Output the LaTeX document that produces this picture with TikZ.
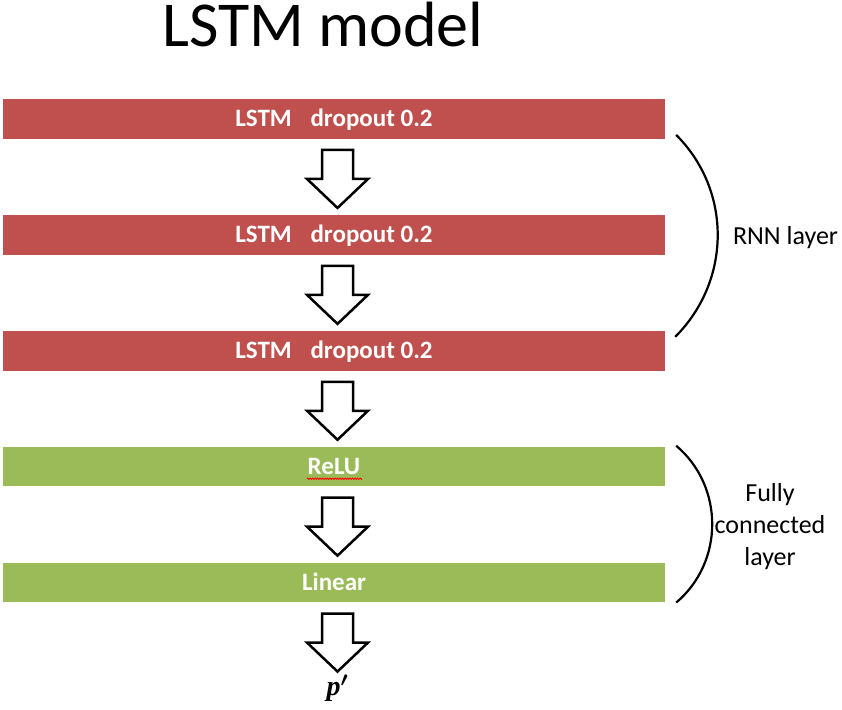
\documentclass[tikz,border=0pt]{standalone}
\usepackage{amsmath}
\usepackage{fontspec}
\setmainfont{Carlito}
\newfontfamily\serifsalida{Liberation Serif}
\usepackage{tikz}
\usetikzlibrary{calc}
\usetikzlibrary{positioning}
\usetikzlibrary{decorations.pathmorphing}
\definecolor{barrojo}{HTML}{C0504D}
\definecolor{barverde}{HTML}{9BBB59}

% Flecha de bloque entre dos barras (de #1 a #2)
\newcommand{\flechabloque}[2]{%
  \draw[flecha] let \p1 = ($(#1.south)+(3.5,11)$), \p2 = ($(#2.north)+(3.5,-7)$) in
    (\x1-15.5pt,\y1) -- (\x1+15.5pt,\y1) -- (\x1+15.5pt,\y2+29pt) -- (\x1+30.5pt,\y2+29pt)
    -- (\x1,\y2) -- (\x1-30.5pt,\y2+29pt) -- (\x1-15.5pt,\y2+29pt) -- cycle;}

\begin{document}
\begin{tikzpicture}[
    x=1pt, y=-1pt, % Un pt por pixel, eje y hacia abajo
    node distance=76pt, % Separación entre barras
    barra/.style={minimum width=662pt, minimum height=39.5pt, inner sep=0pt, text=white,
      font=\fontsize{25}{29}\selectfont\bfseries, text height=15.5pt, text depth=0pt}, % Estilo de las capas
    lstm/.style={barra, fill=barrojo}, % Capas recurrentes (rojas)
    densa/.style={barra, fill=barverde}, % Capas densas (verdes)
    flecha/.style={draw=black, fill=white, line width=2.5pt, line join=miter}, % Flechas de bloque
    llave/.style={line width=2.2pt}, % Llaves laterales
    etiqueta/.style={font=\fontsize{26}{32}\selectfont, align=center} % Textos laterales
]
    \useasboundingbox (0,0) rectangle (842,709);

    % --- Título ---
    \node[font=\fontsize{64}{70}\selectfont, anchor=base] (titulo) at (323,47) {LSTM model};

    % --- Capas del modelo ---
    \node[lstm] (lstm1) at (334,119) {LSTM\hspace{0.75em}dropout 0.2};
    \node[lstm, below=of lstm1] (lstm2) {LSTM\hspace{0.75em}dropout 0.2};
    \node[lstm, below=of lstm2] (lstm3) {LSTM\hspace{0.75em}dropout 0.2};
    \node[densa, below=of lstm3] (relu) {ReLU};
    \node[densa, below=of relu] (linear) {Linear};

    % --- Salida ---
    \node[anchor=north, inner sep=0pt, text height=17pt, text depth=7pt,
      font=\fontsize{28}{32}\selectfont\serifsalida\bfseries\itshape\boldmath] (salida)
      at ($(linear.south)+(3.5,76)$) {p$^{\prime}$};

    % --- Flechas ---
    \flechabloque{lstm1}{lstm2}
    \flechabloque{lstm2}{lstm3}
    \flechabloque{lstm3}{relu}
    \flechabloque{relu}{linear}
    \flechabloque{linear}{salida}

    % Subrayado del corrector en ReLU
    \draw[red, line width=0.8pt, decorate, decoration={zigzag, amplitude=0.7pt, segment length=2.5pt}]
      ($(relu.center)+(-27,12)$) -- ($(relu.center)+(28,12)$);

    % --- Llaves laterales ---
    \draw[llave] ($(lstm1.south east)+(11,-4)$) .. controls +(56,56) and +(56,-56) .. ($(lstm3.north east)+(10,6)$);
    \draw[llave] ($(relu.north east)+(11,-1)$) .. controls +(48,40.5) and +(48,-40.5) .. ($(linear.south east)+(11,0)$);

    % Etiquetas de las llaves
    \node[etiqueta] (rnn) at (785.5,238) {RNN layer};
    \node[etiqueta] (fc) at (770,527) {Fully\\connected\\layer};

\end{tikzpicture}
\end{document}
